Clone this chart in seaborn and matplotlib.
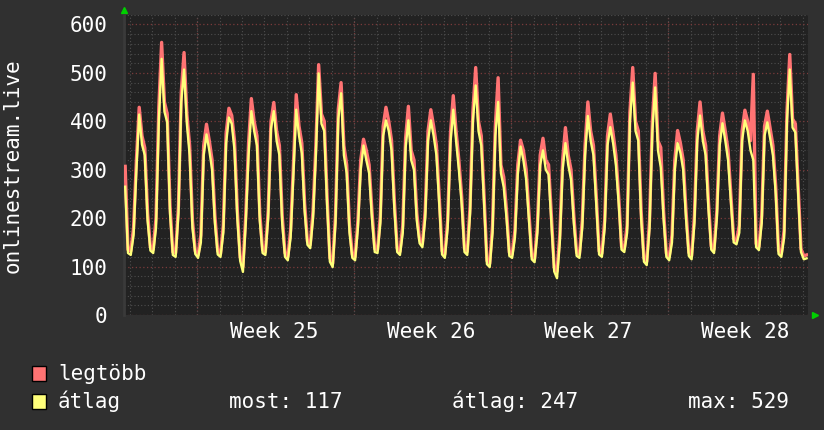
import numpy as np
import pandas as pd
import matplotlib
matplotlib.use("Agg")
import matplotlib.pyplot as plt
from matplotlib.patches import Rectangle
import seaborn as sns

# 3-hourly samples, one row per day (first two samples are before the first day line)
avg_vals = [265, 128,
    124, 165, 300, 414, 352, 330, 195, 133,
    128, 180, 400, 529, 420, 398, 210, 124,
    120, 210, 440, 507, 395, 330, 180, 126,
    118, 150, 330, 373, 340, 300, 190, 125,
    120, 170, 355, 408, 395, 340, 200, 112,
    89, 190, 330, 421, 380, 350, 195, 128,
    124, 200, 385, 421, 360, 330, 190, 120,
    113, 160, 290, 424, 370, 334, 215, 145,
    138, 200, 330, 499, 395, 380, 230, 110,
    99, 190, 405, 458, 330, 293, 170, 118,
    113, 180, 300, 350, 320, 293, 200, 130,
    128, 190, 370, 402, 380, 340, 220, 130,
    124, 170, 345, 402, 320, 300, 195, 148,
    140, 200, 360, 402, 370, 330, 230, 125,
    118, 180, 355, 424, 360, 300, 230, 130,
    124, 210, 400, 474, 380, 350, 230, 105,
    99, 170, 370, 440, 293, 264, 200, 122,
    118, 160, 290, 348, 320, 280, 195, 115,
    109, 170, 310, 340, 300, 290, 190, 90,
    76, 150, 300, 355, 310, 280, 190, 122,
    118, 180, 330, 411, 360, 330, 230, 125,
    120, 180, 350, 388, 355, 310, 230, 135,
    130, 170, 400, 480, 380, 360, 200, 110,
    103, 180, 380, 470, 340, 305, 200, 120,
    113, 150, 300, 355, 335, 300, 200, 122,
    115, 190, 360, 412, 360, 330, 220, 135,
    128, 200, 350, 396, 360, 320, 235, 150,
    146, 170, 360, 402, 380, 340, 320, 140,
    134, 190, 370, 398, 365, 330, 250, 126,
    120, 160, 400, 507, 387, 377, 250, 130,
    115, 117]

max_vals = [307, 135,
    132, 180, 320, 429, 370, 345, 210, 140,
    135, 200, 430, 563, 440, 415, 225, 130,
    128, 225, 460, 542, 415, 350, 195, 132,
    124, 165, 350, 394, 360, 320, 205, 132,
    126, 185, 375, 427, 412, 360, 215, 120,
    100, 205, 355, 447, 400, 370, 210, 135,
    130, 215, 400, 439, 380, 350, 205, 128,
    120, 175, 310, 455, 390, 355, 230, 152,
    145, 215, 350, 517, 415, 400, 245, 118,
    106, 205, 425, 480, 350, 310, 185, 125,
    120, 195, 320, 363, 340, 310, 215, 137,
    135, 205, 390, 429, 400, 360, 235, 137,
    131, 185, 365, 431, 340, 320, 210, 155,
    147, 215, 380, 424, 390, 350, 245, 132,
    125, 195, 375, 453, 380, 320, 245, 137,
    131, 225, 420, 511, 400, 370, 245, 112,
    106, 185, 390, 490, 310, 285, 215, 129,
    125, 175, 310, 361, 340, 300, 210, 122,
    116, 185, 330, 365, 320, 310, 205, 98,
    90, 165, 320, 387, 330, 300, 205, 129,
    125, 195, 350, 440, 380, 350, 245, 132,
    127, 195, 370, 415, 375, 330, 245, 142,
    137, 185, 420, 511, 400, 380, 215, 117,
    110, 195, 400, 499, 360, 346, 215, 127,
    120, 165, 320, 381, 355, 320, 215, 129,
    122, 205, 380, 440, 380, 350, 235, 142,
    135, 215, 370, 417, 380, 340, 250, 157,
    153, 185, 380, 423, 400, 360, 497, 147,
    141, 205, 390, 421, 385, 350, 265, 133,
    127, 175, 420, 538, 405, 395, 265, 137,
    122, 124]

week_labels = ["Week 25", "Week 26", "Week 27", "Week 28"]
week_label_days = [6.45, 13.45, 20.45, 27.45]
week_start_days = [3, 10, 17, 24]
y_ticks = [0, 100, 200, 300, 400, 500, 600]
series_names = ["legtöbb", "átlag"]
stat_labels = ["most: 117", "átlag: 247", "max: 529"]
ylabel = "onlinestream.live"

RED = "#ff7373"
YELLOW = "#ffff7a"

plt.rcParams["font.family"] = ["DejaVu Sans Mono"]

days = -0.208 + 0.125 * np.arange(len(avg_vals))
df = pd.DataFrame({"day": days, "avg": avg_vals, "max": max_vals})

W, H = 824, 430
fig = plt.figure(figsize=(W / 100, H / 100), dpi=100, facecolor="#303030")
ax = fig.add_axes([124 / W, 115 / H, 684 / W, 300.2 / H])
ax.set_facecolor("#222222")

sns.lineplot(data=df, x="day", y="max", ax=ax, color=RED, lw=2.4, estimator=None, zorder=3)
sns.lineplot(data=df, x="day", y="avg", ax=ax, color=YELLOW, lw=1.7, estimator=None, zorder=4)

ax.set_xlim(-0.26, 30.23)
ax.set_ylim(0, 620)

# grid
ax.set_xticks(np.arange(0, 31), minor=True)
ax.set_yticks(np.arange(0, 621, 20), minor=True)
ax.set_yticks(y_ticks)
ax.set_xticks(week_label_days)
ax.set_xticklabels(week_labels)
dots = (0, (1, 2))
ax.grid(which="minor", axis="both", color="#4e4e4e", linestyle=dots, lw=0.8, zorder=1)
ax.grid(which="major", axis="y", color="#7a3b3b", linestyle=dots, lw=0.9, zorder=1)
ax.grid(which="major", axis="x", visible=False)
for d in week_start_days:
    ax.axvline(d, color="#7a3b3b", linestyle=dots, lw=0.9, zorder=1)

ax.tick_params(which="both", length=0, colors="white", labelsize=15)
ax.tick_params(axis="y", pad=12)
ax.tick_params(axis="x", pad=5)
ax.set_xlabel("")
ax.set_ylabel("")
for s in ax.spines.values():
    s.set_visible(False)
ax.spines["left"].set_visible(True)
ax.spines["left"].set_color("#3a3a3a")
ax.spines["left"].set_linewidth(2)

# axis arrows
ax.plot([0], [1.016], marker="^", color="#00d000", markersize=5, transform=ax.transAxes, clip_on=False)
ax.plot([1.0105], [0], marker=">", color="#00d000", markersize=5, transform=ax.transAxes, clip_on=False)

fig.text(13 / W, (H - 166) / H, ylabel, rotation=90, color="white", fontsize=15, ha="center", va="center")

# legend
for (col, ytop), name in zip([(RED, 366), (YELLOW, 394)], series_names):
    fig.patches.append(Rectangle((32 / W, (H - ytop - 15) / H), 14 / W, 15 / H,
                                 transform=fig.transFigure, facecolor=col, edgecolor="black", lw=1))
fig.text(58 / W, 50 / H, series_names[0], color="white", fontsize=15, va="baseline")
fig.text(58 / W, 22 / H, series_names[1], color="white", fontsize=15, va="baseline")
for xpos, lab in zip([229, 452, 688], stat_labels):
    fig.text(xpos / W, 22 / H, lab, color="white", fontsize=15, va="baseline")

fig.savefig("out.png", dpi=100, facecolor=fig.get_facecolor())
